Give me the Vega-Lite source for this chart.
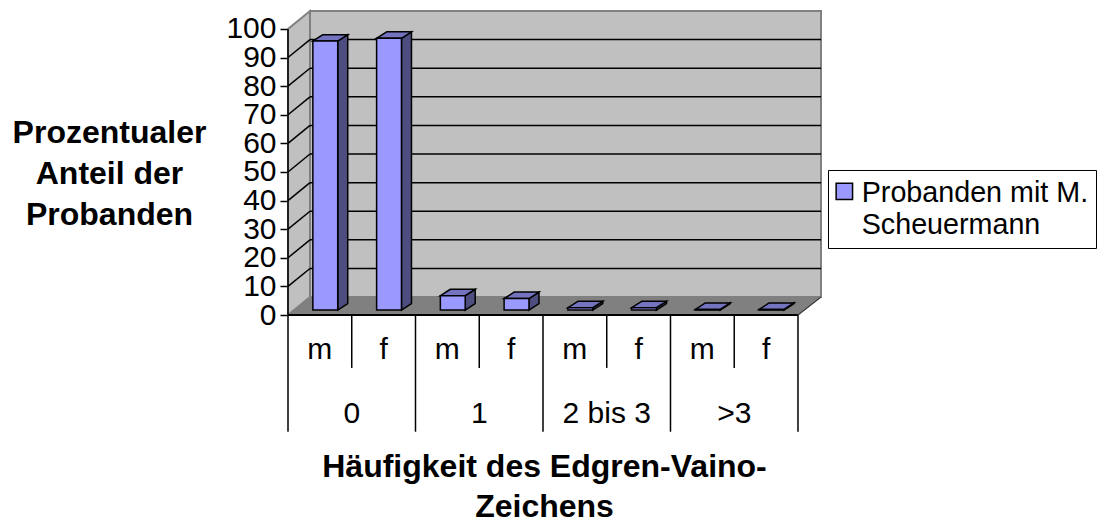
{
"$schema":"https://vega.github.io/schema/vega-lite/v6.json",
"width":533,"height":304,"autosize":"none",
"padding":{"left":288,"top":11,"right":277,"bottom":205},
"background":"white",
"config":{"font":"Liberation Sans","view":{"stroke":null}},
"datasets":{
"bars":[
{"haeufigkeit":"0","geschlecht":"m","anteil":94,"series":"Probanden mit M. Scheuermann"},
{"haeufigkeit":"0","geschlecht":"f","anteil":95,"series":"Probanden mit M. Scheuermann"},
{"haeufigkeit":"1","geschlecht":"m","anteil":5,"series":"Probanden mit M. Scheuermann"},
{"haeufigkeit":"1","geschlecht":"f","anteil":4,"series":"Probanden mit M. Scheuermann"},
{"haeufigkeit":"2 bis 3","geschlecht":"m","anteil":0.8,"series":"Probanden mit M. Scheuermann"},
{"haeufigkeit":"2 bis 3","geschlecht":"f","anteil":0.8,"series":"Probanden mit M. Scheuermann"},
{"haeufigkeit":">3","geschlecht":"m","anteil":0.2,"series":"Probanden mit M. Scheuermann"},
{"haeufigkeit":">3","geschlecht":"f","anteil":0.2,"series":"Probanden mit M. Scheuermann"}],
"depth":[{"t":0},{"t":1}],
"one":[{"a":1}],
"grid":[{"v":10},{"v":20},{"v":30},{"v":40},{"v":50},{"v":60},{"v":70},{"v":80},{"v":90}],
"seps":[{"k":0},{"k":1},{"k":2},{"k":3},{"k":4},{"k":5},{"k":6},{"k":7},{"k":8}],
"groups":[{"label":"0","k":1},{"label":"1","k":3},{"label":"2 bis 3","k":5},{"label":">3","k":7}]
},
"encoding":{
"x":{"field":"X","type":"quantitative","scale":{"domain":[0,8.361],"nice":false,"zero":false},
 "axis":{"labels":false,"ticks":false,"domain":false,"grid":false,"title":["Häufigkeit des Edgren-Vaino-","Zeichens"],"titleFontSize":32,"titleFontWeight":"bold","titleLineHeight":40,"titleX":256,"titleY":161,"titleAlign":"center","titleBaseline":"alphabetic","titleColor":"black"}},
"y":{"field":"Y","type":"quantitative","scale":{"domain":[0,106.27],"nice":false,"zero":false},
 "axis":{"values":[0,10,20,30,40,50,60,70,80,90,100],"labelOverlap":false,"labelFontSize":30,"labelColor":"black","labelPadding":4,"labelBound":false,"labelFlush":false,"tickSize":8,"tickColor":"black","tickWidth":1.5,"domain":false,"grid":false,"title":["Prozentualer","Anteil der","Probanden"],"titleFontSize":32,"titleFontWeight":"bold","titleColor":"black","titleLineHeight":41,"titleAngle":0,"titleX":-179,"titleY":131,"titleAlign":"center","titleBaseline":"alphabetic"}}
},
"layer":[
{"data":{"name":"depth"},"transform":[{"calculate":"datum.t*0.345","as":"X"},{"calculate":"datum.t*6.27","as":"Y"},{"calculate":"100+datum.t*6.27","as":"Y2"}],
 "mark":{"type":"area","orient":"vertical","fill":"#C0C0C0","stroke":"#808080","strokeWidth":2},
 "encoding":{"y2":{"field":"Y2"}}},
{"data":{"name":"one"},"transform":[{"calculate":"0.345","as":"X"},{"calculate":"8.361","as":"X2"},{"calculate":"6.27","as":"Y"},{"calculate":"106.27","as":"Y2"}],
 "mark":{"type":"rect","fill":"#C0C0C0","stroke":"#808080","strokeWidth":2},
 "encoding":{"x2":{"field":"X2"},"y2":{"field":"Y2"}}},
{"data":{"name":"depth"},"transform":[{"calculate":"datum.t*0.345","as":"X"},{"calculate":"8+datum.t*0.361","as":"X2"},{"calculate":"datum.t*6.27","as":"Y"}],
 "mark":{"type":"area","orient":"horizontal","fill":"#808080","stroke":"#808080","strokeWidth":1},
 "encoding":{"x2":{"field":"X2"}}},
{"data":{"name":"grid"},"transform":[{"calculate":"0.345","as":"X"},{"calculate":"8.361","as":"X2"},{"calculate":"datum.v+6.27","as":"Y"}],
 "mark":{"type":"rule","color":"black","strokeWidth":1.5},
 "encoding":{"x2":{"field":"X2"}}},
{"data":{"name":"grid"},"transform":[{"calculate":"0","as":"X"},{"calculate":"0.345","as":"X2"},{"calculate":"datum.v","as":"Y"},{"calculate":"datum.v+6.27","as":"Y2"}],
 "mark":{"type":"rule","color":"black","strokeWidth":1.5},
 "encoding":{"x2":{"field":"X2"},"y2":{"field":"Y2"}}},
{"data":{"name":"one"},"transform":[{"calculate":"0","as":"X"},{"calculate":"0","as":"Y"},{"calculate":"100","as":"Y2"}],
 "mark":{"type":"rule","color":"black","strokeWidth":1.5},
 "encoding":{"y2":{"field":"Y2"}}},
{"data":{"name":"bars"},"transform":[{"window":[{"op":"row_number","as":"n"}]},{"calculate":"[0,1]","as":"t"},{"flatten":["t"]},
  {"calculate":"datum.n-1+0.78+datum.t*0.157","as":"X"},{"calculate":"datum.anteil+1.74+datum.t*2.26","as":"Y"},{"calculate":"1.74+datum.t*2.26","as":"Y2"}],
 "mark":{"type":"area","orient":"vertical","fill":"#4D4D80","stroke":"black","strokeWidth":1.5},
 "encoding":{"y2":{"field":"Y2"},"detail":{"field":"n"}}},
{"data":{"name":"bars"},"transform":[{"window":[{"op":"row_number","as":"n"}]},{"calculate":"[0,1]","as":"t"},{"flatten":["t"]},
  {"calculate":"datum.n-1+0.39+datum.t*0.157","as":"X"},{"calculate":"datum.n-1+0.78+datum.t*0.157","as":"X2"},{"calculate":"datum.anteil+1.74+datum.t*2.26","as":"Y"}],
 "mark":{"type":"area","orient":"horizontal","fill":"#7373BF","stroke":"black","strokeWidth":1.5},
 "encoding":{"x2":{"field":"X2"},"detail":{"field":"n"}}},
{"data":{"name":"bars"},"transform":[{"window":[{"op":"row_number","as":"n"}]},
  {"calculate":"datum.n-1+0.39","as":"X"},{"calculate":"datum.n-1+0.78","as":"X2"},{"calculate":"datum.anteil+1.74","as":"Y"},{"calculate":"1.74","as":"Y2"}],
 "mark":{"type":"rect","stroke":"black","strokeWidth":1.5},
 "encoding":{"x2":{"field":"X2"},"y2":{"field":"Y2"},
  "fill":{"field":"series","type":"nominal","scale":{"range":["#9999FF"]},
   "legend":{"orient":"none","legendX":540,"legendY":159,"title":null,"strokeColor":"black","fillColor":"white","padding":7,"symbolType":"square","symbolSize":270,"symbolOffset":-5,"symbolStrokeColor":"black","symbolStrokeWidth":1.5,"symbolOpacity":1,"labelFontSize":28.7,"labelColor":"black","labelLimit":300,"labelOffset":3,"labelExpr":"['Probanden mit M. ','Scheuermann']","encode":{"labels":{"update":{"lineHeight":{"value":32},"dy":{"value":2}}}}}}}},
{"data":{"name":"seps"},"transform":[{"calculate":"datum.k","as":"X"},{"calculate":"0","as":"Y"},{"calculate":"datum.k%2==0?-40.8:-18.5","as":"Y2"}],
 "mark":{"type":"rule","color":"black","strokeWidth":1.5},
 "encoding":{"y2":{"field":"Y2"}}},
{"data":{"name":"one"},"transform":[{"calculate":"0","as":"X"},{"calculate":"8","as":"X2"},{"calculate":"0","as":"Y"}],
 "mark":{"type":"rule","color":"black","strokeWidth":1.8},
 "encoding":{"x2":{"field":"X2"}}},
{"data":{"name":"one"},"transform":[{"calculate":"8","as":"X"},{"calculate":"8.361","as":"X2"},{"calculate":"0","as":"Y"},{"calculate":"6.27","as":"Y2"}],
 "mark":{"type":"rule","color":"#404040","strokeWidth":1.2},
 "encoding":{"x2":{"field":"X2"},"y2":{"field":"Y2"}}},
{"data":{"name":"bars"},"transform":[{"window":[{"op":"row_number","as":"n"}]},{"calculate":"datum.n-0.5","as":"X"},{"calculate":"-15.3","as":"Y"}],
 "mark":{"type":"text","fontSize":30,"color":"black","align":"center","baseline":"alphabetic"},
 "encoding":{"text":{"field":"geschlecht"}}},
{"data":{"name":"groups"},"transform":[{"calculate":"datum.k","as":"X"},{"calculate":"-37.6","as":"Y"}],
 "mark":{"type":"text","fontSize":30,"color":"black","align":"center","baseline":"alphabetic"},
 "encoding":{"text":{"field":"label"}}}
]
}
